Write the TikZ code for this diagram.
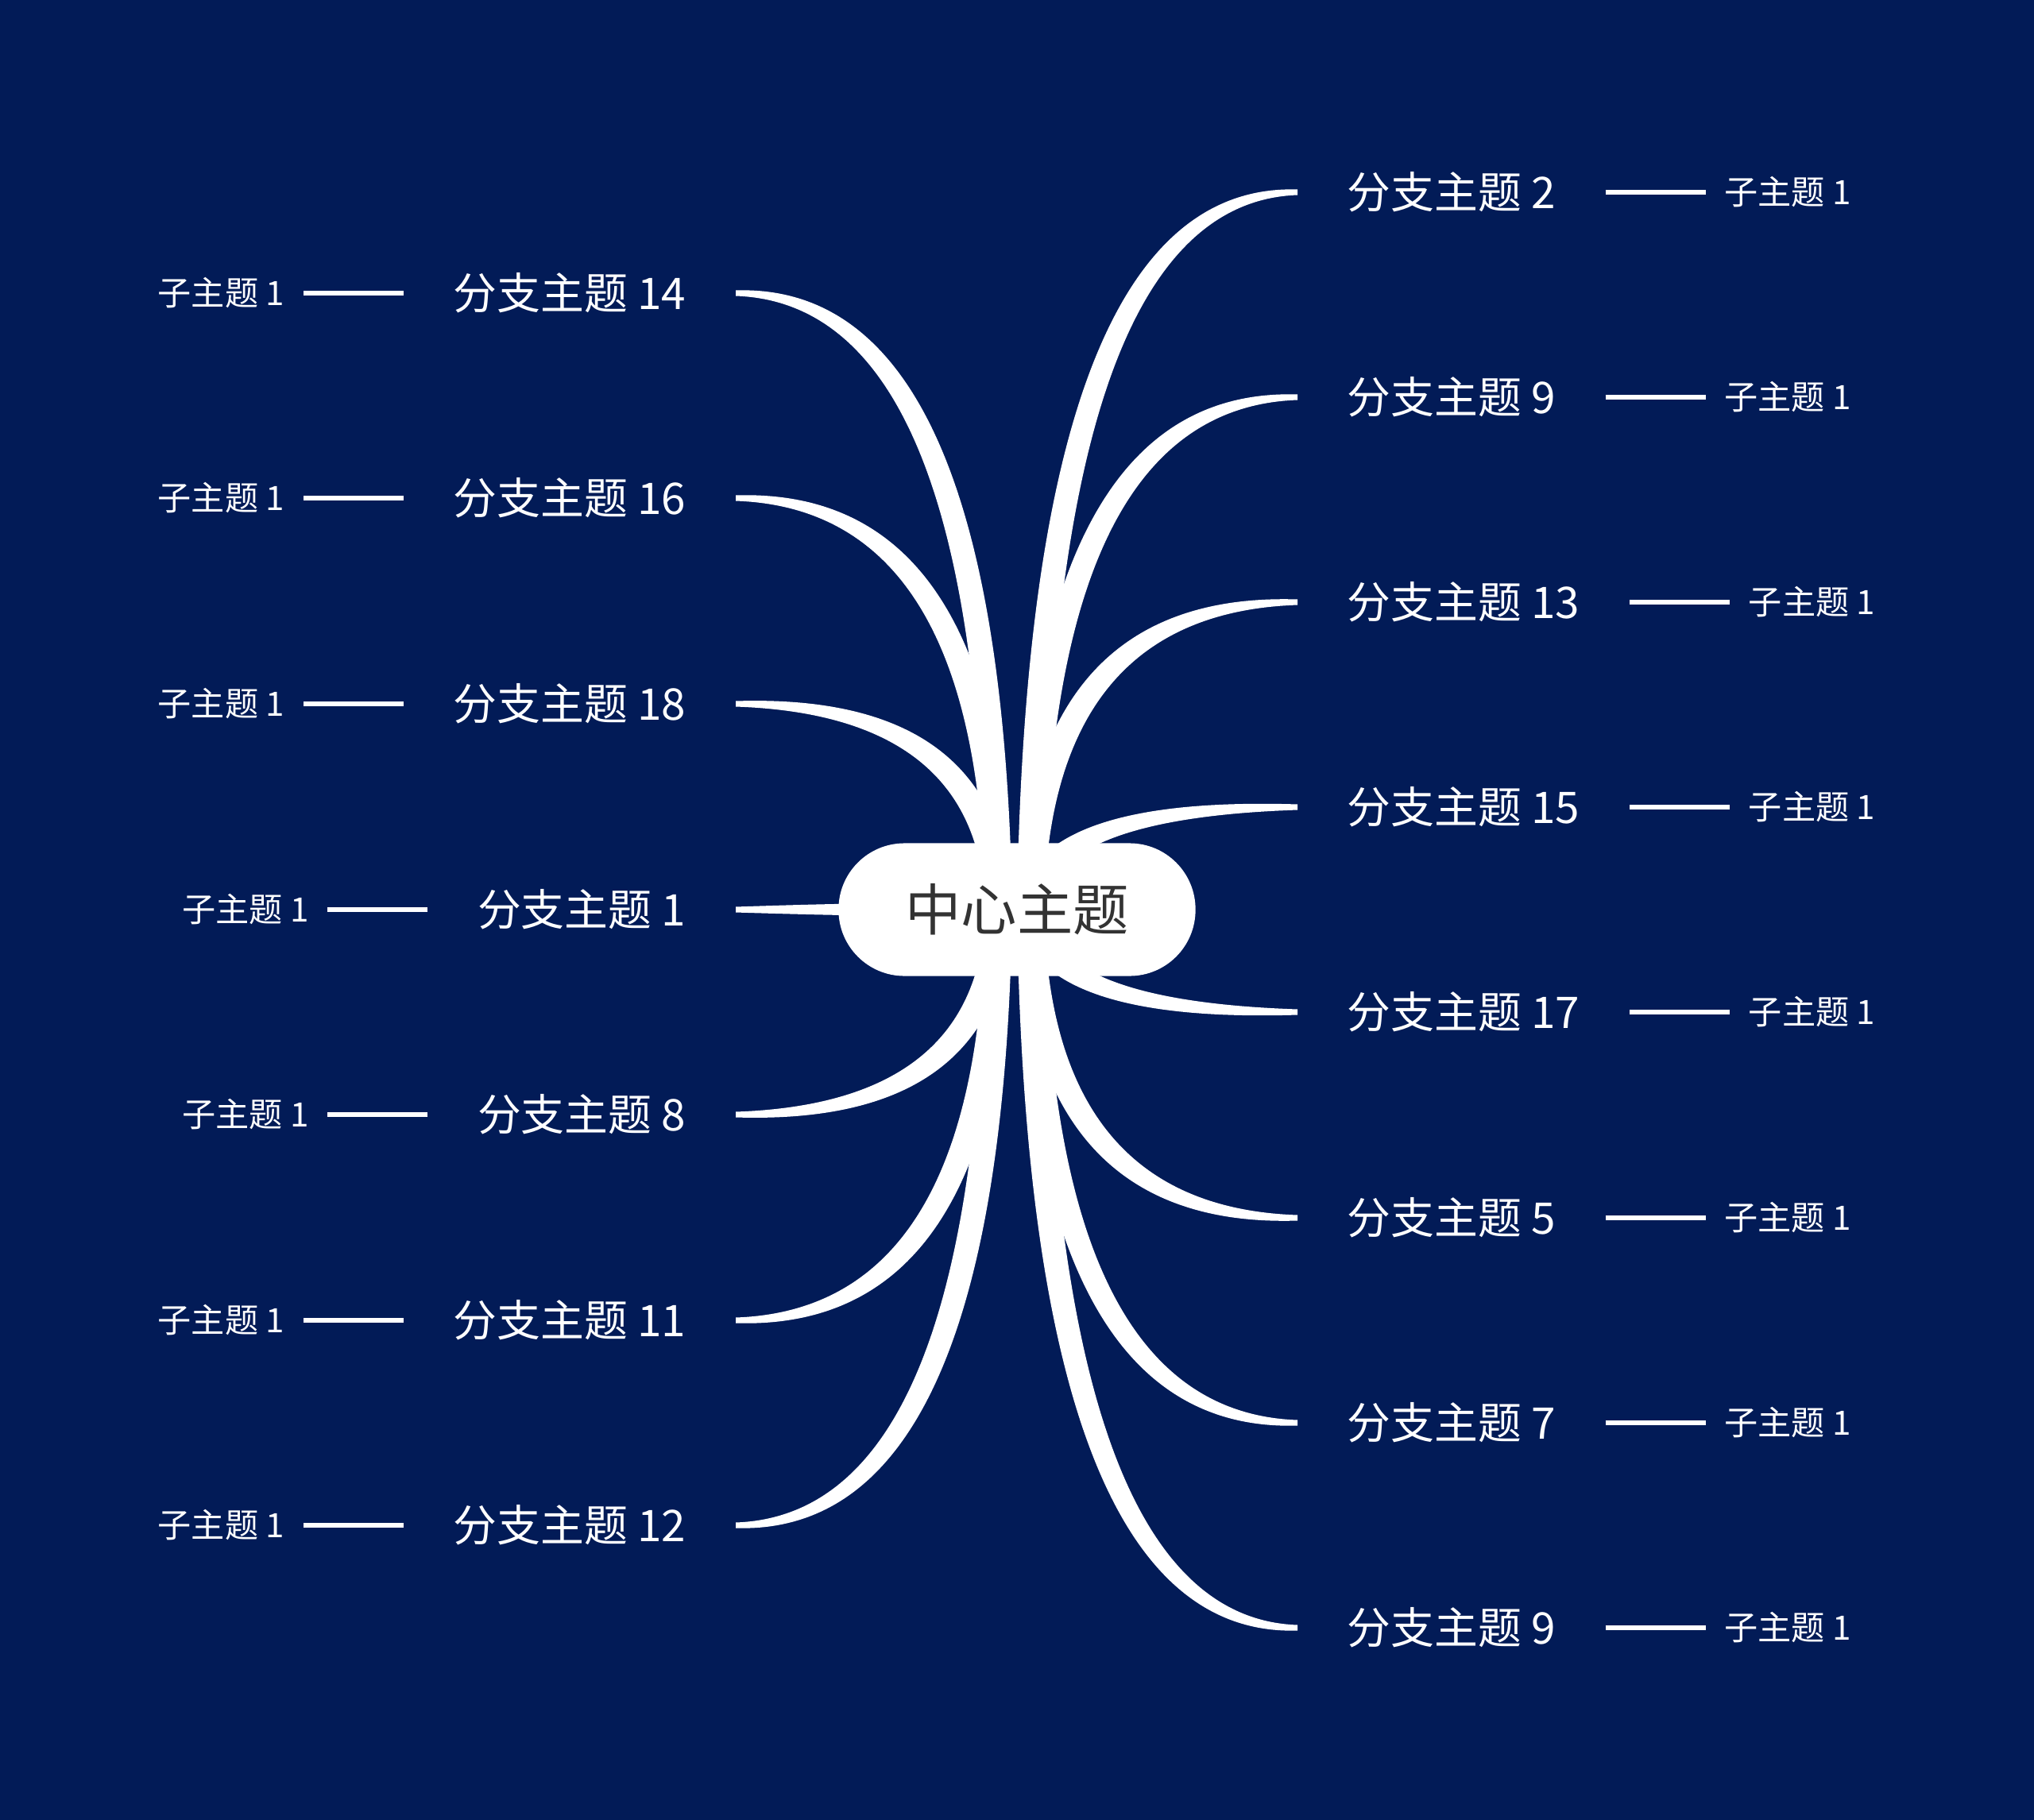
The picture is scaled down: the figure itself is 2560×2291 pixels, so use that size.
\documentclass[tikz,border=0pt]{standalone}
\usepackage{fontspec}
\setmainfont{Noto Sans CJK SC}
\usetikzlibrary{positioning,calc,backgrounds}
\definecolor{navy}{RGB}{2,27,87}
\definecolor{inkgray}{RGB}{51,51,51}
\tikzset{
	hub/.style={fill=white,text=inkgray,rounded corners=0.83cm,minimum width=4.49cm,minimum height=1.67cm,inner sep=0pt,font=\fontsize{20pt}{24pt}\selectfont},
	branch/.style={text=white,inner xsep=0.62cm,font=\fontsize{15.6pt}{19pt}\selectfont},
	leaf/.style={text=white,inner xsep=0.23cm,font=\fontsize{12pt}{14pt}\selectfont},
	leafline/.style={white,line width=1.7pt},
	twig/.style={fill=white}
}
% tapered branch: #1 root, #2 end anchor, #3 side (1 right, -1 left)
\newcommand\twig[3]{%
	\fill[twig] let \p1=(#1), \p2=(#2), \n1={#3}, \n2={\y2>\y1 ? 1 : -1}, \n3={\x1+\n1*2.85pt} in
		({\x1-\n1*4.84pt},\y1)
		.. controls ({(\x1-\n1*4.84pt)/3+2*(\n3-\n1*3.98pt)/3},{\y1/3+2*(\y2+\n2*3.98pt)/3})
		and ({\x2/3+2*(\n3-\n1*3.98pt)/3},{(\y2+\n2*1pt)/3+2*(\y2+\n2*3.98pt)/3})
		.. (\x2,{\y2+\n2*1pt}) -- (\x2,{\y2-\n2*1pt})
		.. controls ({\x2/3+2*(\n3+\n1*3.98pt)/3},{(\y2-\n2*1pt)/3+2*(\y2-\n2*3.98pt)/3})
		and ({(\x1+\n1*4.84pt)/3+2*(\n3+\n1*3.98pt)/3},{\y1/3+2*(\y2-\n2*3.98pt)/3})
		.. ({\x1+\n1*4.84pt},\y1) -- cycle;}

\begin{document}
\begin{tikzpicture}[x=0.01cm,y=-0.01cm]
		\begin{scope}[on background layer]
		\fill[navy] (0,0) rectangle (2560,2291);
		\end{scope}
		\useasboundingbox (0,0) rectangle (2560,2291);
		\node[hub] (ctr) at (1280,1145) {中心主题};
		\coordinate (rootR) at ($(ctr.center)+(17,0)$);
		\coordinate (rootL) at ($(ctr.center)+(-23,0)$);
		% right side
		\node[branch,anchor=west] (r1) at (1633,242) {分支主题 2};
		\node[branch,anchor=west] (r2) at (1633,500) {分支主题 9};
		\node[branch,anchor=west] (r3) at (1633,758) {分支主题 13};
		\node[branch,anchor=west] (r4) at (1633,1016) {分支主题 15};
		\node[branch,anchor=west] (r5) at (1633,1274) {分支主题 17};
		\node[branch,anchor=west] (r6) at (1633,1533) {分支主题 5};
		\node[branch,anchor=west] (r7) at (1633,1791) {分支主题 7};
		\node[branch,anchor=west] (r8) at (1633,2049) {分支主题 9};
		% left side
		\node[branch,anchor=east] (l1) at (926,369) {分支主题 14};
		\node[branch,anchor=east] (l2) at (926,627) {分支主题 16};
		\node[branch,anchor=east] (l3) at (926,886) {分支主题 18};
		\node[branch,anchor=east] (l4) at (926,1145) {分支主题 1};
		\node[branch,anchor=east] (l5) at (926,1403) {分支主题 8};
		\node[branch,anchor=east] (l6) at (926,1662) {分支主题 11};
		\node[branch,anchor=east] (l7) at (926,1920) {分支主题 12};
		% sub topics
		\foreach \b in {r1,r2,r3,r4,r5,r6,r7,r8}{
			\node[leaf,right=1.26cm of \b] (\b-leaf) {子主题 1};
			\draw[leafline] (\b) -- (\b-leaf);
		}
		\foreach \b in {l1,l2,l3,l4,l5,l6,l7}{
			\node[leaf,left=1.26cm of \b] (\b-leaf) {子主题 1};
			\draw[leafline] (\b) -- (\b-leaf);
		}
		\begin{scope}[on background layer]
		\foreach \b in {r1,r2,r3,r4,r5,r6,r7,r8}{\twig{rootR}{\b.west}{1}}
		\foreach \b in {l1,l2,l3,l4,l5,l6,l7}{\twig{rootL}{\b.east}{-1}}
		\end{scope}
\end{tikzpicture}
\end{document}
